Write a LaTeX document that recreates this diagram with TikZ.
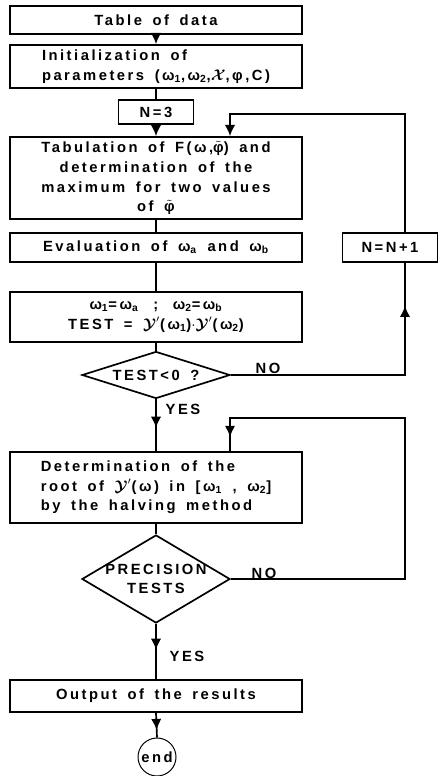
\documentclass[tikz,border=0pt]{standalone}
\usepackage{amsmath,amssymb}
\usepackage{fontspec}
\setmainfont{Liberation Sans}[LetterSpace=17, WordSpace=1.6]
\usetikzlibrary{shapes.geometric,arrows.meta,decorations.markings}
\newcommand{\phit}{$\tilde{\text{φ}}$}
\newcommand{\yp}{$\boldsymbol{\mathcal{Y}}'$}
\newcommand{\ix}[1]{\textsubscript{#1}}

\begin{document}
\begin{tikzpicture}[x=0.025cm, y=-0.025cm, line width=1.2pt,
    every node/.style={font=\bfseries\fontsize{10.5}{14}\selectfont},
    stepbox/.style={draw, rectangle, minimum width=7.3cm, inner sep=0pt, align=center},
    testbox/.style={draw, diamond, inner sep=0pt, minimum width=3.7cm},
    flow/.style={-{Latex[length=2.8mm,width=2.6mm]}},
    midarrow/.style={postaction={decorate}, decoration={markings,
        mark=at position #1 with {\arrow{Latex[length=2.8mm,width=2.6mm]}}}},
    tag/.style={font=\bfseries\fontsize{10.5}{12}\selectfont}]
    \useasboundingbox (0,0) rectangle (440,776);

    % Main column
    \node[stepbox, minimum height=0.7cm] (data) at (156,20) {Table of data};
    \node[stepbox, minimum height=1.075cm, align=left] (init) at (156,66.5)
        {Initialization of\\ parameters (ω\ix{1},ω\ix{2},$\boldsymbol{\mathcal{X}}$,φ,C)};
    \node[stepbox, minimum width=1.875cm, minimum height=0.6cm] (n3) at (156,112) {N=3};
    \node[stepbox, minimum height=2.05cm] (tab) at (156,178)
        {Tabulation of F(ω,\phit) and\\ determination of the\\ maximum for two values\\ of \phit};
    \node[stepbox, minimum height=0.725cm] (eval) at (156,247.5) {Evaluation of ω\ix{a} and ω\ix{b}};
    \node[stepbox, minimum height=1.25cm] (test) at (156,317)
        {ω\ix{1}=ω\ix{a}\quad;\quad ω\ix{2}=ω\ix{b}\\ TEST = \yp(ω\ix{1})$\cdot$\yp(ω\ix{2})};
    \node[testbox, minimum height=1.175cm, label={center:TEST<0 ?}] (sign) at (156,375) {};
    \node[stepbox, minimum height=1.775cm, align=left] (det) at (156,487.5)
        {Determination of the\\ root of \yp(ω) in [ω\ix{1} , ω\ix{2}]\\ by the halving method};
    \node[testbox, minimum height=2.2cm, label={[align=center]center:PRECISION\\ TESTS}] (prec) at (156,579) {};
    \node[stepbox, minimum height=0.8cm] (out) at (156,696) {Output of the results};
    \node[draw, circle, minimum size=0.95cm, inner sep=0pt, line width=0.7pt] (finish) at (157,757) {end};

    % Counter box (right)
    \node[stepbox, minimum width=2.375cm, minimum height=0.725cm] (incr) at (390,247.5) {N=N+1};
    \coordinate (rline) at (405,0);
    \coordinate (back1) at (230,114);
    \coordinate (back2) at (230,418);

    % Labels
    \node[tag] (no1) at (268,368) {NO};
    \node[tag] (yes1) at (183,409) {YES};
    \node[tag] (no2) at (264,573) {NO};
    \node[tag] (yes2) at (187,656) {YES};

    % Connectors
    \draw[flow] (data) -- (init);
    \draw (init) -- (n3);
    \draw[flow] (n3) -- (tab);
    \draw[flow] (incr.north -| rline) |- (back1) -- (tab.north -| back1);
    \draw (tab) -- (eval);
    \draw (eval) -- (test);
    \draw (test) -- (sign);
    \draw[midarrow=0.85] (sign.east) -| (incr.south -| rline);
    \draw[midarrow=0.55] (sign.south) -- (det.north);
    \draw (det) -- (prec);
    \draw[midarrow=0.974] (prec.east) -| (back2 -| rline) -- (back2) -- (det.north -| back2);
    \draw[midarrow=0.47] (prec.south) -- (out.north);
    \draw[midarrow=0.7] (out.south) -- (finish.north);
\end{tikzpicture}
\end{document}
